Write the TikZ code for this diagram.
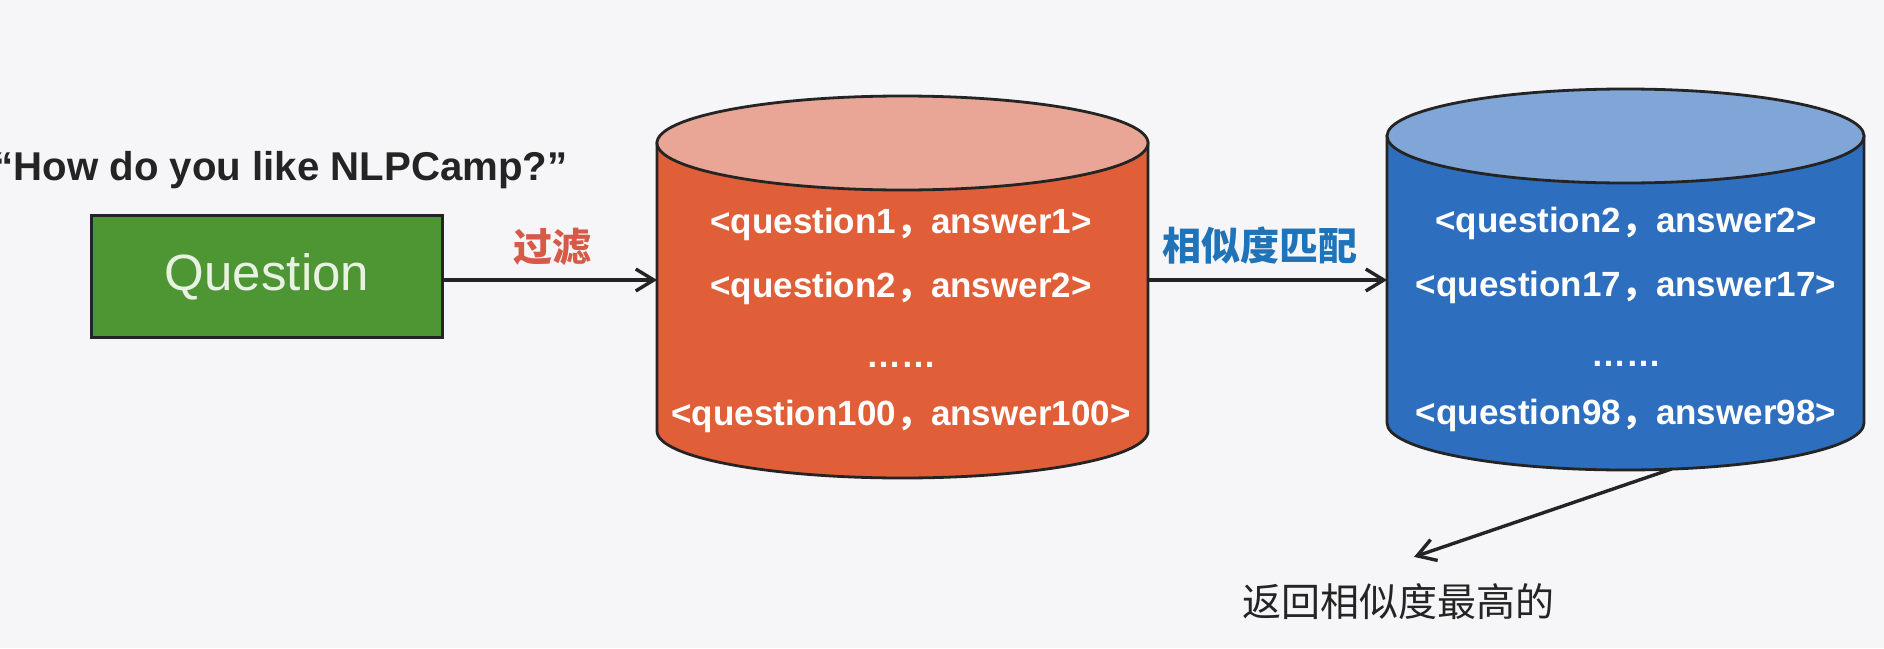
\documentclass[tikz,border=0pt]{standalone}
\usepackage{fontspec}
\setmainfont{Liberation Sans}
\newfontfamily\cjk{Noto Sans CJK SC}
\usepackage{xcolor}
\usetikzlibrary{arrows.meta}

\definecolor{bgcol}{RGB}{246,246,248}
\definecolor{inkcol}{RGB}{36,36,36}
\definecolor{qgreen}{RGB}{78,150,52}
\definecolor{qtext}{RGB}{232,242,226}
\definecolor{redside}{RGB}{224,94,56}
\definecolor{redtop}{RGB}{233,166,150}
\definecolor{blueside}{RGB}{46,110,190}
\definecolor{bluetop}{RGB}{128,165,215}
\definecolor{filtcol}{RGB}{214,90,72}
\definecolor{matchcol}{RGB}{30,115,185}

\newcommand{\qc}{{\cjk ，}}

\begin{document}
\begin{tikzpicture}[x=0.5pt,y=-0.5pt,
    arrowline/.style={-{Straight Barb[length=9pt,width=11pt]}, line width=1.7pt, draw=inkcol},
    cylline/.style={line width=1.4pt, draw=inkcol},
    rowtext/.style={text=white, align=center, font=\bfseries\fontsize{17.5}{32}\selectfont},
    labtext/.style={font=\cjk\bfseries\fontsize{19.5}{20}\selectfont}]

    \fill[bgcol] (0,0) rectangle (1884,648);
    \useasboundingbox (0,0) rectangle (1884,648);

    % (a) the question
    \node[anchor=base west, inner sep=0, text=inkcol, font=\bfseries\fontsize{20.1}{21}\selectfont] (ask) at (-7,180) {“How do you like NLPCamp?”};
    \node[draw=inkcol, line width=1.5pt, fill=qgreen, text=qtext, minimum width=175.5pt, minimum height=61pt, font=\fontsize{25.5}{26}\selectfont] (q) at (267,276.5) {Question};

    % (b) filtered pool
    \node[minimum width=245.5pt, minimum height=144pt, inner sep=0, outer sep=0] (red) at (902.5,287) {};
    \draw[cylline, fill=redside] (red.north west) -- (red.south west)
        arc[start angle=180, end angle=360, x radius=122.75pt, y radius=23.5pt] -- (red.north east) -- cycle;
    \draw[cylline, fill=redtop] (red.north) ellipse[x radius=122.75pt, y radius=23.5pt];
    \node[rowtext] (redrows) at (901,320) {<question1\qc answer1>\\<question2\qc answer2>\\[3pt]……\\[-3pt]<question100\qc answer100>};

    % (c) matched pool
    \node[minimum width=238.5pt, minimum height=143.5pt, inner sep=0, outer sep=0] (blue) at (1625.5,279.5) {};
    \draw[cylline, fill=blueside] (blue.north west) -- (blue.south west)
        arc[start angle=180, end angle=360, x radius=119.25pt, y radius=23.5pt] -- (blue.north east) -- cycle;
    \draw[cylline, fill=bluetop] (blue.north) ellipse[x radius=119.25pt, y radius=23.5pt];
    \node[rowtext] (bluerows) at (1626,319) {<question2\qc answer2>\\<question17\qc answer17>\\[3pt]……\\[-3pt]<question98\qc answer98>};

    % labels
    \node[labtext, text=filtcol] (filt) at (552,247) {过滤};
    \node[labtext, text=matchcol] (match) at (1260,246) {相似度匹配};
    \node[text=inkcol, font=\cjk\fontsize{19.5}{20}\selectfont] (ret) at (1398,602) {返回相似度最高的};

    % flow arrows
    \draw[arrowline] ([yshift=-1.75pt]q.east) -- ([yshift=-1.75pt]q.east -| red.west);
    \draw[arrowline] ([yshift=-1.75pt]red.east |- q.east) -- ([yshift=-1.75pt]blue.west |- q.east);
    \draw[arrowline] ([xshift=23pt,yshift=-23pt]blue.south) -- ([xshift=8pt,yshift=10pt]ret.north);
\end{tikzpicture}
\end{document}
